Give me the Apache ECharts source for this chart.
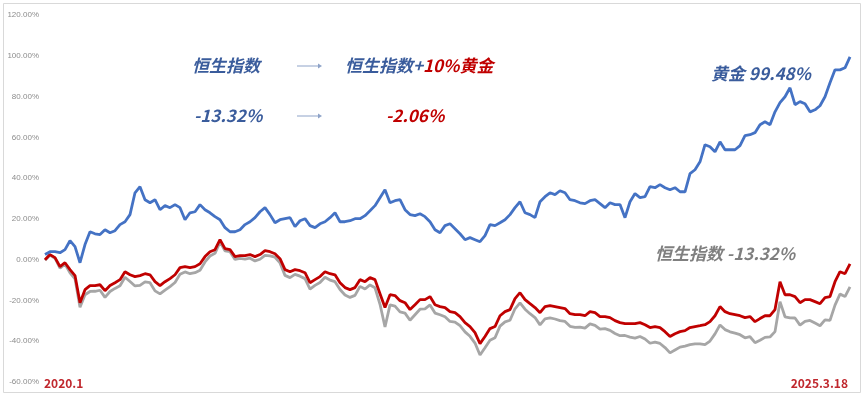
<!DOCTYPE html>
<html>
<head>
<meta charset="utf-8">
<script src="https://cdn.jsdelivr.net/npm/echarts@6/dist/echarts.min.js"></script>
<style>html,body{margin:0;padding:0;background:#fff}#c{width:866px;height:402px}</style>
</head>
<body>
<div id="c"></div>
<script>
// Gold cumulative return (%)
const gold = [2.5,3.9,3.9,3.4,4.9,9.3,6.4,-1.5,7.4,13.7,12.7,12.3,14.7,13.2,14.2,17.2,18.6,22.1,32.8,35.8,
29.4,27.9,29.4,24.5,26.5,25.5,27.0,25.5,19.6,23.0,23.5,27.0,24.5,23.0,21.1,19.6,15.7,13.7,13.7,14.7,
17.2,18.6,20.6,23.5,25.5,22.1,18.1,19.6,20.1,20.6,16.2,19.1,20.1,16.7,15.7,17.6,18.6,20.6,23.0,18.6,
18.6,19.1,20.1,20.1,21.6,24.0,26.5,30.4,34.3,27.9,28.9,29.4,24.5,22.1,21.6,22.5,21.1,18.6,14.7,13.2,
16.7,17.6,15.2,12.7,9.8,10.8,9.8,8.8,11.8,17.2,16.7,18.1,19.6,22.1,25.5,28.4,23.0,22.1,20.6,28.4,
30.9,32.8,31.9,33.8,32.8,29.4,28.9,27.9,27.5,28.9,29.4,27.5,25.5,27.9,27.0,27.0,20.6,28.4,32.4,30.4,
30.9,35.8,35.3,36.8,35.3,34.3,35.3,33.3,33.3,42.2,44.1,48.0,56.4,55.4,52.9,57.8,53.9,53.9,53.9,55.9,
60.8,61.3,62.3,66.2,67.6,66.2,72.5,77.0,79.9,84.3,76.0,77.5,76.5,72.5,73.5,75.5,79.9,86.8,93.1,93.1,
94.1,99.48];
// Hang Seng Index + 10% gold (%)
const mix = [0.0,2.5,1.0,-3.4,-1.5,-4.9,-7.8,-21.1,-14.7,-12.7,-12.7,-12.3,-15.2,-12.7,-11.3,-9.8,-5.9,-7.4,-8.3,-7.8,
-6.9,-7.4,-10.8,-12.7,-10.8,-9.3,-7.4,-3.9,-3.4,-3.9,-3.4,-2.0,1.5,3.9,4.9,9.8,5.4,4.9,1.5,2.0,
2.0,2.5,1.5,2.5,4.4,3.9,2.9,0.5,-4.9,-5.9,-4.9,-5.4,-6.4,-11.3,-9.8,-8.3,-5.9,-6.9,-7.4,-11.3,
-13.7,-14.7,-13.7,-9.8,-10.8,-8.8,-9.8,-16.7,-23.5,-17.2,-17.6,-20.1,-21.1,-24.5,-22.1,-19.6,-19.6,-18.1,-22.1,-23.0,
-23.5,-25.5,-26.0,-27.9,-30.9,-32.8,-35.8,-41.2,-37.7,-33.8,-32.8,-27.5,-25.5,-24.5,-19.1,-16.2,-19.6,-21.6,-23.5,-26.0,
-23.0,-22.5,-23.0,-23.5,-24.0,-26.5,-27.0,-27.0,-27.5,-25.5,-26.0,-27.9,-27.9,-28.4,-29.9,-30.9,-31.4,-31.4,-31.4,-30.9,
-31.9,-33.3,-32.8,-33.3,-35.3,-37.7,-36.3,-35.3,-34.8,-33.3,-32.8,-32.4,-31.9,-30.4,-27.5,-23.0,-25.5,-26.5,-27.0,-27.5,
-28.4,-27.9,-30.4,-28.9,-27.5,-27.5,-24.5,-10.8,-17.2,-17.2,-18.1,-21.1,-19.6,-19.6,-20.6,-21.6,-18.6,-18.1,-10.8,-5.9,
-6.9,-2.06];
// Hang Seng Index (%)
const hsi = [-0.3,2.3,0.7,-4.2,-2.2,-6.5,-9.4,-23.3,-17.2,-15.6,-15.5,-15.0,-18.5,-15.6,-14.1,-12.8,-8.6,-10.7,-12.9,-12.6,
-10.9,-11.3,-15.3,-16.8,-14.9,-13.2,-11.2,-7.2,-6.0,-6.9,-6.4,-5.2,-1.1,1.8,3.1,8.7,4.3,3.9,0.1,0.6,
0.3,0.7,-0.6,0.2,2.1,1.9,1.2,-1.6,-7.7,-8.8,-7.2,-8.1,-9.3,-14.4,-12.6,-11.2,-8.6,-10.0,-10.8,-14.6,
-17.3,-18.5,-17.5,-13.1,-14.4,-12.4,-13.8,-21.9,-33.0,-22.2,-22.8,-25.6,-26.2,-29.7,-27.0,-24.3,-24.1,-22.2,-26.2,-27.0,
-28.0,-30.3,-30.6,-32.4,-35.4,-37.6,-40.9,-46.8,-43.2,-39.5,-38.3,-32.6,-30.5,-29.7,-24.1,-21.2,-24.3,-26.5,-28.4,-32.0,
-29.0,-28.6,-29.1,-29.9,-30.3,-32.7,-33.2,-33.1,-33.6,-31.5,-32.2,-34.1,-33.8,-34.7,-36.2,-37.3,-37.2,-38.0,-38.5,-37.7,
-38.9,-41.0,-40.4,-41.1,-43.1,-45.7,-44.3,-42.9,-42.4,-41.7,-41.3,-41.3,-41.7,-39.9,-36.4,-32.0,-34.3,-35.4,-36.0,-36.8,
-38.3,-37.8,-40.7,-39.5,-38.1,-37.9,-35.3,-20.6,-28.0,-28.5,-28.6,-32.1,-30.3,-29.8,-31.1,-32.4,-29.5,-29.8,-22.3,-16.9,
-18.1,-13.32];
const yTicks = {min: -60, max: 120, interval: 20};
const startLabel = '2020.1';
const endLabel = '2025.3.18';

const categories = gold.map((_, i) => i);
const chart = echarts.init(document.getElementById('c'), null, {renderer: 'canvas'});
const fam = '"Noto Sans CJK SC", "Noto Sans", sans-serif';
const blueTxt = '#3A5C9C', redTxt = '#C00000';
chart.setOption({
  animation: false,
  backgroundColor: '#fff',
  grid: {left: 45, right: 16, top: 15, bottom: 20},
  xAxis: {type: 'category', data: categories, boundaryGap: false, show: false},
  yAxis: {
    type: 'value', min: yTicks.min, max: yTicks.max, interval: yTicks.interval,
    axisLine: {show: false}, axisTick: {show: false}, splitLine: {show: false},
    axisLabel: {margin: 6, color: '#8c8c8c', fontSize: 8, fontFamily: 'Liberation Sans, Arial, sans-serif',
      formatter: v => v.toFixed(2) + '%'}
  },
  series: [
    {name: '恒生指数', type: 'line', data: hsi, showSymbol: false, lineStyle: {color: '#A6A6A6', width: 2.8}, z: 2},
    {name: '恒生指数+10%黄金', type: 'line', data: mix, showSymbol: false, lineStyle: {color: '#C00000', width: 2.8}, z: 3},
    {name: '黄金', type: 'line', data: gold, showSymbol: false, lineStyle: {color: '#4472C4', width: 2.8}, z: 4}
  ],
  graphic: [
    {type: 'rect', shape: {x: 3.5, y: 3.5, width: 857, height: 389}, style: {fill: 'none', stroke: '#d9d9d9', lineWidth: 1}, silent: true, z: -1},
    {type: 'text', x: 192, y: 66, style: {text: '恒生指数', font: 'italic bold 17px ' + fam, fill: blueTxt, textVerticalAlign: 'middle'}},
    {type: 'text', x: 345, y: 66, style: {text: '{b|恒生指数+}{r|10%黄金}', textVerticalAlign: 'middle',
      rich: {b: {font: 'italic bold 17px ' + fam, fill: blueTxt}, r: {font: 'italic bold 17px ' + fam, fill: redTxt}}}},
    {type: 'text', x: 194, y: 116, style: {text: '-13.32%', font: 'italic bold 17px ' + fam, fill: blueTxt, textVerticalAlign: 'middle'}},
    {type: 'text', x: 386, y: 116, style: {text: '-2.06%', font: 'italic bold 17px ' + fam, fill: redTxt, textVerticalAlign: 'middle'}},
    {type: 'line', shape: {x1: 297, y1: 66, x2: 318, y2: 66}, style: {stroke: '#8EA3C8', lineWidth: 1}},
    {type: 'polygon', shape: {points: [[318, 63.5], [322, 66], [318, 68.5]]}, style: {fill: '#8EA3C8'}},
    {type: 'line', shape: {x1: 297, y1: 116, x2: 318, y2: 116}, style: {stroke: '#8EA3C8', lineWidth: 1}},
    {type: 'polygon', shape: {points: [[318, 113.5], [322, 116], [318, 118.5]]}, style: {fill: '#8EA3C8'}},
    {type: 'text', x: 711, y: 74, style: {text: '黄金 99.48%', font: 'italic bold 17px ' + fam, fill: blueTxt, textVerticalAlign: 'middle'}},
    {type: 'text', x: 655, y: 254, style: {text: '恒生指数 -13.32%', font: 'italic bold 17px ' + fam, fill: '#7F7F7F', textVerticalAlign: 'middle'}},
    {type: 'text', x: 44, y: 383, style: {text: startLabel, font: 'bold 12px ' + fam, fill: '#C0282E', textVerticalAlign: 'middle'}},
    {type: 'text', x: 848, y: 383, style: {text: endLabel, font: 'bold 12px ' + fam, fill: '#C0282E', textAlign: 'right', textVerticalAlign: 'middle'}}
  ]
});
</script>
</body>
</html>
